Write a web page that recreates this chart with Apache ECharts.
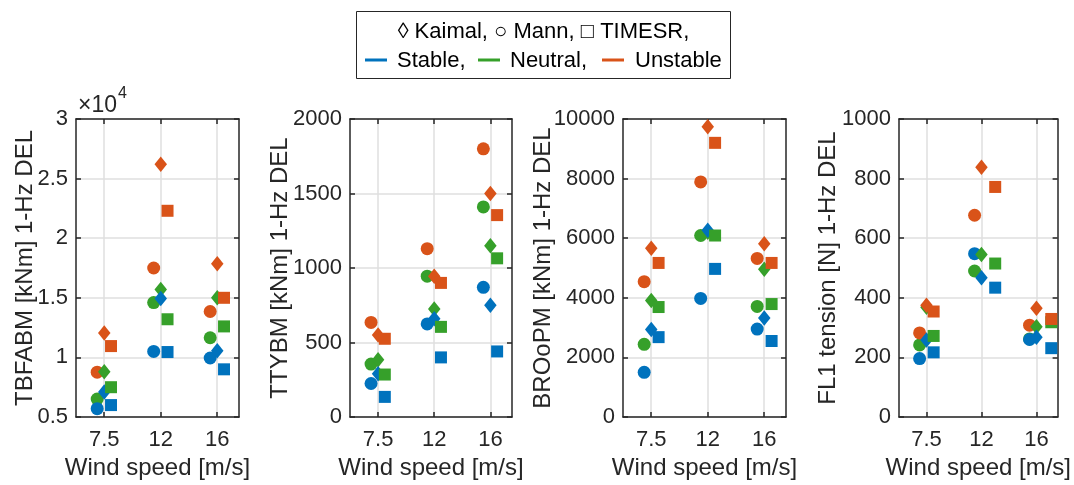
<!DOCTYPE html>
<html>
<head>
<meta charset="utf-8">
<script src="https://cdn.jsdelivr.net/npm/echarts@6/dist/echarts.min.js"></script>
<style>
  html, body { margin: 0; padding: 0; background: #ffffff; }
  #chart { width: 1074px; height: 485px; }
</style>
</head>
<body>
<div id="chart"></div>
<script>
// ---------------- DATA ----------------
const windSpeeds = ['7.5', '12', '16'];
const stabilities = ['Stable', 'Neutral', 'Unstable'];
const models = ['Mann', 'Kaimal', 'TIMESR'];
const panelTitles = ['TBFABM [kNm] 1-Hz DEL', 'TTYBM [kNm] 1-Hz DEL', 'BROoPM [kNm] 1-Hz DEL', 'FL1 tension [N] 1-Hz DEL'];

// Panel 1: TBFABM [kNm]
const TBFABM_Mann_Stable     = [5700, 10500, 9950];
const TBFABM_Mann_Neutral    = [6500, 14600, 11650];
const TBFABM_Mann_Unstable   = [8760, 17500, 13850];
const TBFABM_Kaimal_Stable   = [7100, 14950, 10550];
const TBFABM_Kaimal_Neutral  = [8800, 15700, 15000];
const TBFABM_Kaimal_Unstable = [12050, 26200, 17850];
const TBFABM_TIMESR_Stable   = [6000, 10450, 9000];
const TBFABM_TIMESR_Neutral  = [7500, 13200, 12600];
const TBFABM_TIMESR_Unstable = [10950, 22300, 15000];

// Panel 2: TTYBM [kNm]
const TTYBM_Mann_Stable     = [225, 625, 870];
const TTYBM_Mann_Neutral    = [355, 945, 1410];
const TTYBM_Mann_Unstable   = [635, 1130, 1800];
const TTYBM_Kaimal_Stable   = [290, 660, 750];
const TTYBM_Kaimal_Neutral  = [385, 725, 1150];
const TTYBM_Kaimal_Unstable = [550, 945, 1500];
const TTYBM_TIMESR_Stable   = [135, 400, 440];
const TTYBM_TIMESR_Neutral  = [285, 605, 1065];
const TTYBM_TIMESR_Unstable = [525, 900, 1355];

// Panel 3: BROoPM [kNm]
const BROoPM_Mann_Stable     = [1500, 3980, 2950];
const BROoPM_Mann_Neutral    = [2440, 6090, 3710];
const BROoPM_Mann_Unstable   = [4540, 7890, 5320];
const BROoPM_Kaimal_Stable   = [2940, 6270, 3320];
const BROoPM_Kaimal_Neutral  = [3910, 6200, 4960];
const BROoPM_Kaimal_Unstable = [5660, 9740, 5810];
const BROoPM_TIMESR_Stable   = [2680, 4970, 2550];
const BROoPM_TIMESR_Neutral  = [3690, 6090, 3790];
const BROoPM_TIMESR_Unstable = [5170, 9200, 5170];

// Panel 4: FL1 tension [N]
const FL1_Mann_Stable     = [196, 548, 260];
const FL1_Mann_Neutral    = [242, 490, 262];
const FL1_Mann_Unstable   = [282, 677, 308];
const FL1_Kaimal_Stable   = [258, 467, 268];
const FL1_Kaimal_Neutral  = [368, 545, 303];
const FL1_Kaimal_Unstable = [375, 838, 365];
const FL1_TIMESR_Stable   = [217, 434, 231];
const FL1_TIMESR_Neutral  = [272, 515, 318];
const FL1_TIMESR_Unstable = [354, 772, 329];

const panelData = [
  { Mann: {Stable: TBFABM_Mann_Stable, Neutral: TBFABM_Mann_Neutral, Unstable: TBFABM_Mann_Unstable},
    Kaimal: {Stable: TBFABM_Kaimal_Stable, Neutral: TBFABM_Kaimal_Neutral, Unstable: TBFABM_Kaimal_Unstable},
    TIMESR: {Stable: TBFABM_TIMESR_Stable, Neutral: TBFABM_TIMESR_Neutral, Unstable: TBFABM_TIMESR_Unstable} },
  { Mann: {Stable: TTYBM_Mann_Stable, Neutral: TTYBM_Mann_Neutral, Unstable: TTYBM_Mann_Unstable},
    Kaimal: {Stable: TTYBM_Kaimal_Stable, Neutral: TTYBM_Kaimal_Neutral, Unstable: TTYBM_Kaimal_Unstable},
    TIMESR: {Stable: TTYBM_TIMESR_Stable, Neutral: TTYBM_TIMESR_Neutral, Unstable: TTYBM_TIMESR_Unstable} },
  { Mann: {Stable: BROoPM_Mann_Stable, Neutral: BROoPM_Mann_Neutral, Unstable: BROoPM_Mann_Unstable},
    Kaimal: {Stable: BROoPM_Kaimal_Stable, Neutral: BROoPM_Kaimal_Neutral, Unstable: BROoPM_Kaimal_Unstable},
    TIMESR: {Stable: BROoPM_TIMESR_Stable, Neutral: BROoPM_TIMESR_Neutral, Unstable: BROoPM_TIMESR_Unstable} },
  { Mann: {Stable: FL1_Mann_Stable, Neutral: FL1_Mann_Neutral, Unstable: FL1_Mann_Unstable},
    Kaimal: {Stable: FL1_Kaimal_Stable, Neutral: FL1_Kaimal_Neutral, Unstable: FL1_Kaimal_Unstable},
    TIMESR: {Stable: FL1_TIMESR_Stable, Neutral: FL1_TIMESR_Neutral, Unstable: FL1_TIMESR_Unstable} }
];

// ---------------- LAYOUT / STYLE ----------------
const yRanges = [
  {min: 5000, max: 30000, interval: 5000, fmt: v => String(v / 10000)},
  {min: 0, max: 2000, interval: 500, fmt: v => String(v)},
  {min: 0, max: 10000, interval: 2000, fmt: v => String(v)},
  {min: 0, max: 1000, interval: 200, fmt: v => String(v)}
];
const grids = [
  {left: 76, top: 119, width: 163, height: 299},
  {left: 350, top: 119, width: 162, height: 299},
  {left: 623, top: 119, width: 163, height: 299},
  {left: 899, top: 119, width: 161, height: 299}
];
const nameGaps = [39, 58, 68, 59];
// horizontal marker offsets (in category units) per panel, model, category
const offsets = [
  {Mann: [-0.125, -0.125, -0.125], Kaimal: [0, 0, 0], TIMESR: [0.12, 0.12, 0.12]},
  {Mann: [-0.125, -0.125, -0.125], Kaimal: [0, 0, 0], TIMESR: [0.12, 0.12, 0.12]},
  {Mann: [-0.125, -0.125, -0.125], Kaimal: [0, 0, 0], TIMESR: [0.13, 0.13, 0.13]},
  {Mann: [-0.125, -0.125, -0.125], Kaimal: [0, 0, 0], TIMESR: [0.13, 0.25, 0.27]}
];
const colors = {Stable: '#0072BD', Neutral: '#36A02A', Unstable: '#D95319'};
const symbols = {Mann: {symbol: 'circle', size: 13}, Kaimal: {symbol: 'diamond', size: [12.5, 15.5]}, TIMESR: {symbol: 'rect', size: 12}};
const drawOrder = ['Neutral', 'Stable', 'Unstable'];
const ink = '#262626';
const gridColor = '#dfdfdf';
const fontFam = 'Liberation Sans, Arial, sans-serif';
const catTicks = [1, 2, 3];
const tickFont = 22;
const nameFont = 24;

const chart = echarts.init(document.getElementById('chart'), null, {renderer: 'canvas'});

const xAxes = [], yAxes = [], series = [];
grids.forEach((g, i) => {
  const lineStyle = {color: ink, width: 1.5};
  xAxes.push({
    gridIndex: i, type: 'value', min: 0.5, max: 3.385, position: 'bottom',
    axisLine: {show: true, onZero: false, lineStyle},
    axisTick: {show: true, inside: true, length: 5, customValues: catTicks, lineStyle},
    axisLabel: {customValues: catTicks, formatter: v => windSpeeds[Math.round(v) - 1], fontSize: tickFont, color: ink, margin: 12, fontFamily: fontFam},
    splitLine: {show: true, lineStyle: {color: gridColor, width: 1.5}},
    name: 'Wind speed [m/s]', nameLocation: 'middle', nameGap: 39, nameMoveOverlap: false,
    nameTextStyle: {fontSize: nameFont, color: ink, fontFamily: fontFam}
  });
  xAxes.push({
    gridIndex: i, type: 'value', min: 0.5, max: 3.385, position: 'top',
    axisLine: {show: true, onZero: false, lineStyle},
    axisTick: {show: true, inside: true, length: 5, customValues: catTicks, lineStyle},
    axisLabel: {show: false}, splitLine: {show: false}
  });
  const r = yRanges[i];
  yAxes.push({
    gridIndex: i, type: 'value', min: r.min, max: r.max, interval: r.interval, position: 'left',
    axisLine: {show: true, onZero: false, lineStyle},
    axisTick: {show: true, inside: true, length: 5, lineStyle},
    axisLabel: {formatter: r.fmt, fontSize: tickFont, color: ink, margin: 8, fontFamily: fontFam},
    splitLine: {show: true, lineStyle: {color: gridColor, width: 1.5}},
    name: panelTitles[i], nameLocation: 'middle', nameGap: nameGaps[i], nameRotate: 90, nameMoveOverlap: false,
    nameTextStyle: {fontSize: nameFont, color: ink, fontFamily: fontFam}
  });
  yAxes.push({
    gridIndex: i, type: 'value', min: r.min, max: r.max, interval: r.interval, position: 'right',
    axisLine: {show: true, onZero: false, lineStyle},
    axisTick: {show: true, inside: true, length: 5, lineStyle},
    axisLabel: {show: false}, splitLine: {show: false}
  });
  models.forEach(m => {
    drawOrder.forEach(s => {
      const vals = panelData[i][m][s];
      series.push({
        type: 'scatter', xAxisIndex: 2 * i, yAxisIndex: 2 * i,
        symbol: symbols[m].symbol, symbolSize: symbols[m].size,
        itemStyle: {color: colors[s], opacity: 1},
        emphasis: {disabled: true},
        silent: true,
        clip: true,
        data: vals.map((v, k) => [k + 1 + offsets[i][m][k], v])
      });
    });
  });
});

const legendFont = 22;
const graphic = [
  {type: 'rect', shape: {x: 356.5, y: 11.5, width: 374, height: 67}, style: {fill: '#fff', stroke: ink, lineWidth: 1}, z: 10},
  {type: 'text', x: 543.5, y: 32, style: {text: '\u25CA Kaimal, \u25CB Mann, \u25A1 TIMESR,', fill: '#000', fontSize: legendFont, fontFamily: fontFam, align: 'center', verticalAlign: 'middle'}, z: 11},
  {type: 'line', shape: {x1: 365, y1: 60, x2: 387, y2: 60}, style: {stroke: colors.Stable, lineWidth: 3}, z: 11},
  {type: 'text', x: 397, y: 61, style: {text: 'Stable,', fill: '#000', fontSize: legendFont, fontFamily: fontFam, align: 'left', verticalAlign: 'middle'}, z: 11},
  {type: 'line', shape: {x1: 478, y1: 60, x2: 500, y2: 60}, style: {stroke: colors.Neutral, lineWidth: 3}, z: 11},
  {type: 'text', x: 510, y: 61, style: {text: 'Neutral,', fill: '#000', fontSize: legendFont, fontFamily: fontFam, align: 'left', verticalAlign: 'middle'}, z: 11},
  {type: 'line', shape: {x1: 602, y1: 60, x2: 624, y2: 60}, style: {stroke: colors.Unstable, lineWidth: 3}, z: 11},
  {type: 'text', x: 635, y: 61, style: {text: 'Unstable', fill: '#000', fontSize: legendFont, fontFamily: fontFam, align: 'left', verticalAlign: 'middle'}, z: 11},
  {type: 'text', x: 78, y: 106, style: {text: '\u00D710', fill: ink, fontSize: 23, fontFamily: fontFam, align: 'left', verticalAlign: 'middle'}, z: 11},
  {type: 'text', x: 118, y: 94, style: {text: '4', fill: ink, fontSize: 16, fontFamily: fontFam, align: 'left', verticalAlign: 'middle'}, z: 11}
];

chart.setOption({
  animation: false,
  backgroundColor: '#ffffff',
  grid: grids.map(g => Object.assign({containLabel: false}, g)),
  xAxis: xAxes,
  yAxis: yAxes,
  series: series,
  graphic: graphic
});
</script>
</body>
</html>
